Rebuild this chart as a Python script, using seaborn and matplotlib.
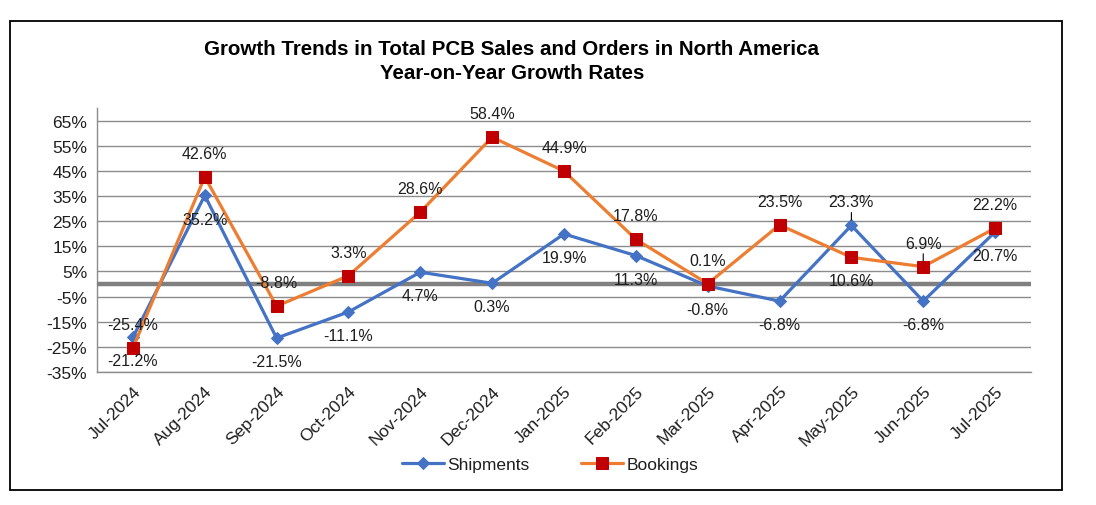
import numpy as np
import pandas as pd
import matplotlib
matplotlib.use("Agg")
import matplotlib.pyplot as plt
from matplotlib.patches import Rectangle
import seaborn as sns

# Data
months = ["Jul-2024", "Aug-2024", "Sep-2024", "Oct-2024", "Nov-2024", "Dec-2024",
          "Jan-2025", "Feb-2025", "Mar-2025", "Apr-2025", "May-2025", "Jun-2025", "Jul-2025"]
shipments = [-21.2, 35.2, -21.5, -11.1, 4.7, 0.3, 19.9, 11.3, -0.8, -6.8, 23.3, -6.8, 20.7]
bookings = [-25.4, 42.6, -8.8, 3.3, 28.6, 58.4, 44.9, 17.8, 0.1, 23.5, 10.6, 6.9, 22.2]
y_ticks = list(range(-35, 66, 10))

# label placement: +1 above the point, -1 below
ship_side = [-1, -1, -1, -1, -1, -1, -1, -1, -1, -1, 1, -1, -1]
book_side = [1, 1, 1, 1, 1, 1, 1, 1, 1, 1, -1, 1, 1]

sns.set_style("white")
plt.rcParams["font.family"] = ["Liberation Sans", "DejaVu Sans"]

df = pd.DataFrame({"pos": np.arange(len(months)), "month": months,
                   "Shipments": shipments, "Bookings": bookings})

fig = plt.figure(figsize=(10.96, 5.06), dpi=100)
ax = fig.add_axes([0.0885, 0.2628, 0.8522, 0.5218])

BLUE = "#4472C4"
ORANGE = "#ED7D31"
RED = "#C00000"
TXT = "#1E1E1E"

sns.lineplot(data=df, x="pos", y="Shipments", ax=ax, color=BLUE, lw=2.3,
             marker="D", markersize=6.5, markerfacecolor=BLUE, markeredgecolor=BLUE,
             label="Shipments", zorder=4)
sns.lineplot(data=df, x="pos", y="Bookings", ax=ax, color=ORANGE, lw=2.3,
             marker="s", markersize=8.5, markerfacecolor=RED, markeredgecolor=RED,
             label="Bookings", zorder=5)

# zero line
ax.axhline(0, color="#808080", lw=3.2, zorder=3)

ax.set_xlim(-0.5, len(months) - 0.5)
ax.set_ylim(-35, 70)
ax.set_yticks(y_ticks)
ax.set_yticklabels([f"{t}%" for t in y_ticks], fontsize=12.5, color=TXT)
ax.yaxis.grid(True, color="#8C8C8C", lw=1)
ax.set_axisbelow(True)
ax.set_xticks(df["pos"])
ax.set_xticklabels(months, rotation=45, ha="right", rotation_mode="anchor",
                   fontsize=12.5, color=TXT)
ax.tick_params(axis="y", length=0, pad=7)
ax.tick_params(axis="x", length=0, pad=8)
ax.set_xlabel("")
ax.set_ylabel("")
for side in ["top", "right"]:
    ax.spines[side].set_visible(False)
for side in ["left", "bottom"]:
    ax.spines[side].set_color("#8C8C8C")
    ax.spines[side].set_linewidth(1)

# data labels
def put_labels(values, sides, leader=()):
    for i, (v, s) in enumerate(zip(values, sides)):
        arrow = None
        if i in leader:
            arrow = dict(arrowstyle="-", color="black", lw=0.8, shrinkA=0, shrinkB=4)
        ax.annotate(f"{v:.1f}%", (i, v), xytext=(0, 17 * s), textcoords="offset points",
                    ha="center", va="center", fontsize=11.5, color=TXT,
                    arrowprops=arrow, zorder=6)

put_labels(shipments, ship_side, leader=(10,))
put_labels(bookings, book_side, leader=(11,))

ax.get_legend().remove()
handles, labels = ax.get_legend_handles_labels()
fig.legend(handles, labels, loc="center", bbox_to_anchor=(0.502, 0.081), ncol=2,
           frameon=False, fontsize=12.5, handlelength=2.4, columnspacing=3.0,
           handletextpad=0.2, labelcolor=TXT)

fig.text(0.467, 0.879, "Growth Trends in Total PCB Sales and Orders in North America\n"
         "Year-on-Year Growth Rates", ha="center", va="center", fontsize=14.8,
         fontweight="bold", linespacing=1.35, color="black")

# outer chart frame
fig.patches.append(Rectangle((0.0091, 0.0296), 0.9599, 0.9269, transform=fig.transFigure,
                             fill=False, edgecolor="black", lw=1.3))

fig.savefig("out.png", dpi=100)
